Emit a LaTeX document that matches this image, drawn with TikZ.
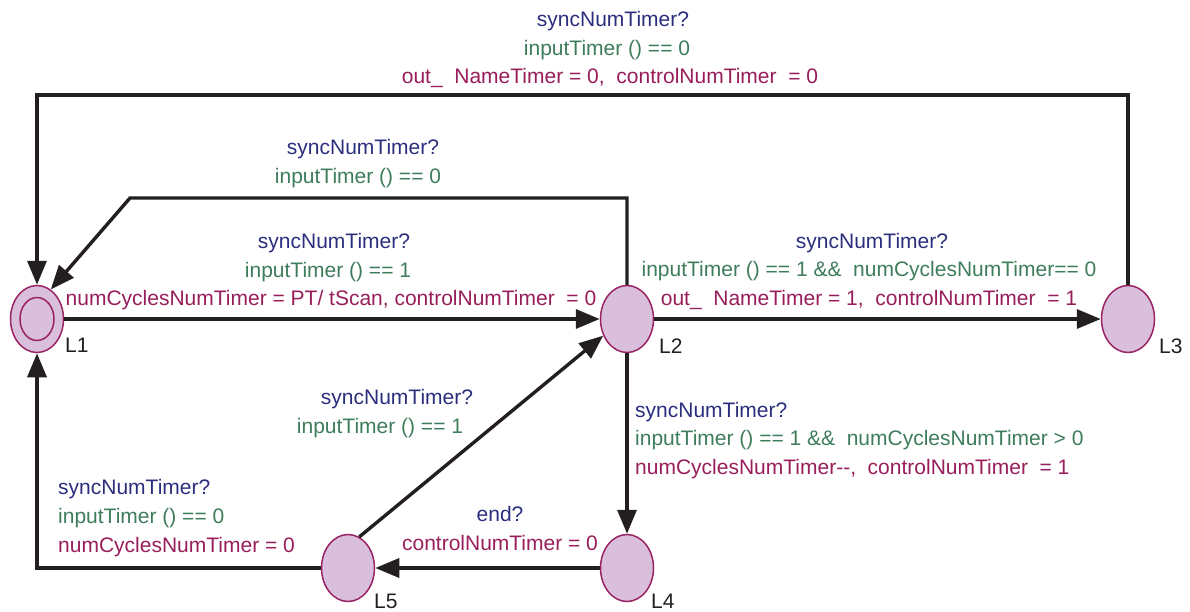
\documentclass[tikz,border=0pt]{standalone}
\usepackage{fontspec}
\setmainfont{Liberation Sans}
\usetikzlibrary{shapes,arrows.meta,positioning}

\definecolor{syncblue}{HTML}{2B2E7C}
\definecolor{guardgreen}{HTML}{3E7D5C}
\definecolor{assignred}{HTML}{981E5B}
\definecolor{locfill}{HTML}{D9BFDB}
\definecolor{locline}{HTML}{9A2463}
\definecolor{edgeblack}{HTML}{231F20}

\begin{document}
\begin{tikzpicture}[x=1pt,y=-1pt,
    every node/.style={font=\fontsize{21}{25}\selectfont},
    loc/.style={draw=locline,fill=locfill,ellipse,line width=1.5pt,minimum width=53pt,minimum height=67pt,inner sep=0pt},
    locname/.style={text=edgeblack,anchor=base west,inner sep=0pt},
    edge/.style={draw=edgeblack,line width=3.4pt,-{Triangle[length=24pt,width=19pt]}},
    sync/.style={text=syncblue,anchor=base,inner sep=0pt},
    guard/.style={text=guardgreen,anchor=base,inner sep=0pt},
    assign/.style={text=assignred,anchor=base,inner sep=0pt}]
    \useasboundingbox (0,0) rectangle (1190,612);

    % Locations
    \node[loc] (L1) at (37,319) {};
    \node[draw=locline,ellipse,line width=1.5pt,minimum width=34pt,minimum height=43pt] (L1in) at (L1) {};
    \node[loc] (L2) at (627,319) {};
    \node[loc] (L3) at (1128,319) {};
    \node[loc] (L4) at (627,568) {};
    \node[loc] (L5) at (348,568) {};

    \node[locname] (n1) at (65,352) {L1};
    \node[locname] (n2) at (659,353) {L2};
    \node[locname] (n3) at (1159,353) {L3};
    \node[locname] (n4) at (651,608) {L4};
    \node[locname] (n5) at (374,608) {L5};

    % Corners
    \coordinate (c31) at (1128,95);
    \coordinate (c13) at (37,95);
    \coordinate (c21a) at (627,198);
    \coordinate (c21b) at (130,198);

    % Transitions
    \draw[edge] (L3.north) -- (c31) -- (c13) -- (L1.north);
    \draw[edge] (L2.north) -- (c21a) -- (c21b) -- (L1.65);
    \draw[edge] (L1) -- (L2);
    \draw[edge] (L2) -- (L3);
    \draw[edge] (L2) -- (L4);
    \draw[edge] (L4) -- (L5);
    \draw[edge] (L5.70) -- (L2.215);
    \draw[edge] (L5.west) -| (L1.south);

    % L3 -> L1
    \node[sync] (s31) at (613,27) {syncNumTimer?};
    \node[guard] (g31) at (607,56) {inputTimer () == 0};
    \node[assign] (a31) at (610,84) {out\_\ \ NameTimer = 0,\ \ controlNumTimer\ \ = 0};

    % L2 -> L1
    \node[sync] (s21) at (363,155) {syncNumTimer?};
    \node[guard] (g21) at (358,184) {inputTimer () == 0};

    % L1 -> L2
    \node[sync] (s12) at (334,248) {syncNumTimer?};
    \node[guard] (g12) at (328,277) {inputTimer () == 1};
    \node[assign] (a12) at (331,305) {numCyclesNumTimer = PT/ tScan, controlNumTimer\ \ = 0};

    % L2 -> L3
    \node[sync] (s23) at (872,248) {syncNumTimer?};
    \node[guard] (g23) at (869,276) {inputTimer () == 1 \&\&\ \ numCyclesNumTimer== 0};
    \node[assign] (a23) at (869,305) {out\_\ \ NameTimer = 1,\ \ controlNumTimer\ \ = 1};

    % L2 -> L4
    \node[sync,anchor=base west] (s24) at (635,417) {syncNumTimer?};
    \node[guard,anchor=base west] (g24) at (635,445) {inputTimer () == 1 \&\&\ \ numCyclesNumTimer > 0};
    \node[assign,anchor=base west] (a24) at (635,474) {numCyclesNumTimer-{}-,\ \ controlNumTimer\ \ = 1};

    % L4 -> L5
    \node[sync] (s45) at (500,521) {end?};
    \node[assign] (a45) at (500,550) {controlNumTimer = 0};

    % L5 -> L2
    \node[sync] (s52) at (397,404) {syncNumTimer?};
    \node[guard] (g52) at (380,433) {inputTimer () == 1};

    % L5 -> L1
    \node[sync,anchor=base west] (s51) at (58,494) {syncNumTimer?};
    \node[guard,anchor=base west] (g51) at (58,523) {inputTimer () == 0};
    \node[assign,anchor=base west] (a51) at (58,552) {numCyclesNumTimer = 0};
\end{tikzpicture}
\end{document}
